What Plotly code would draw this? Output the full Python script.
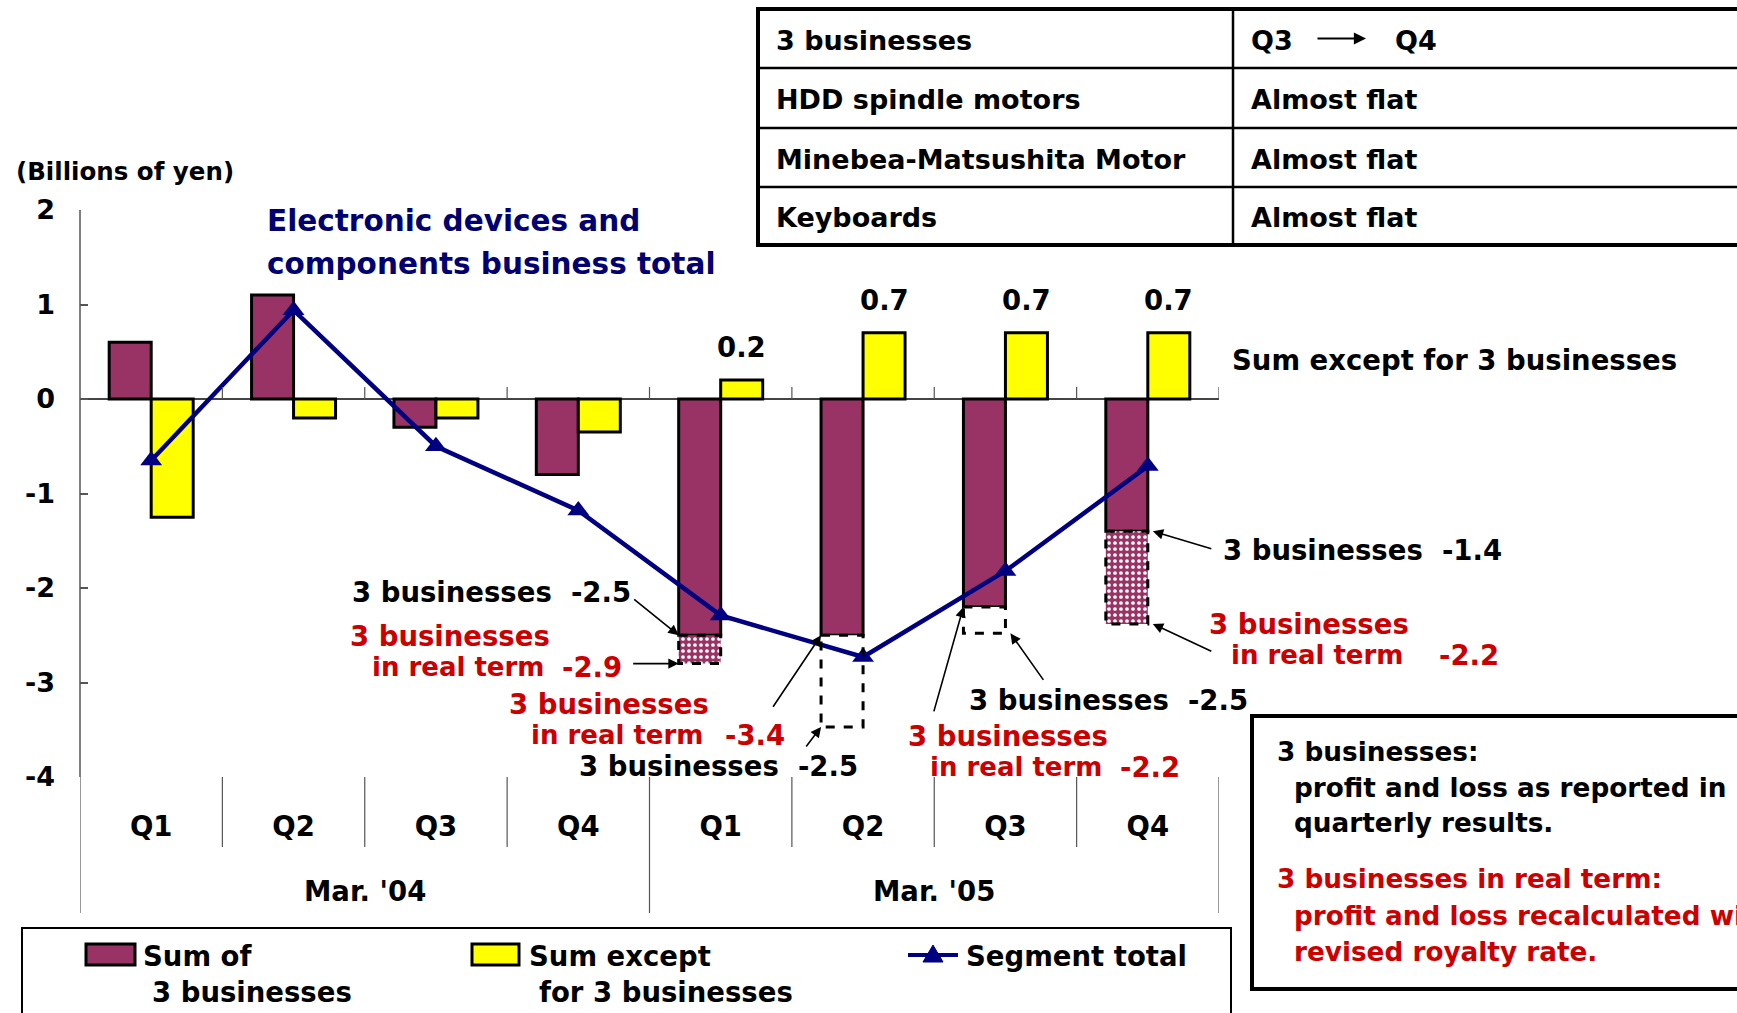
import plotly.graph_objects as go

# ── Data (billions of yen) ────────────────────────────────────────────────────
QUARTERS    = ["Q1", "Q2", "Q3", "Q4", "Q1", "Q2", "Q3", "Q4"]
YEARS       = ["Mar. '04", "Mar. '05"]
SUM_3       = [0.6, 1.1, -0.3, -0.8, -2.5, -2.5, -2.2, -1.4]
SUM_EXCEPT  = [-1.25, -0.2, -0.2, -0.35, 0.2, 0.7, 0.7, 0.7]
SEGMENT     = [-0.65, 0.94, -0.5, -1.18, -2.29, -2.73, -1.82, -0.71]

# boxes hanging under the "3 businesses" bars in FY Mar. '05
EXT_IDX     = [4, 5, 6, 7]
EXT_TOP     = [-2.5, -2.5, -2.2, -1.4]
EXT_BOTTOM  = [-2.8, -3.47, -2.48, -2.38]
EXT_DOTTED  = [True, False, False, True]

REPORTED    = ["-2.5", "-2.5", "-2.5", "-1.4"]
REAL_TERM   = ["-2.9", "-3.4", "-2.2", "-2.2"]

TABLE_HEAD  = ["3 businesses", "Q3", "Q4"]
TABLE_ROWS  = ["HDD spindle motors", "Minebea-Matsushita Motor", "Keyboards"]
TABLE_TREND = ["Almost flat", "Almost flat", "Almost flat"]

Y_TICKS     = [2, 1, 0, -1, -2, -3, -4]

# ── Style ─────────────────────────────────────────────────────────────────────
W, H       = 1737, 1013
FONT       = "DejaVu Sans"
MAROON     = "#993366"
YELLOW     = "#FFFF00"
NAVY       = "#000080"
TITLE_BLUE = "#000070"
RED        = "#CC0000"
AXIS_GREY  = "#555555"
BAR_W      = 0.295
NB         = "\u00a0"
X          = list(range(len(QUARTERS)))

# plot area in page pixels
PX_L, PX_R, PX_T, PX_B = 80, 1219, 210, 777


def px(x):
    return x / W


def py(y):
    return 1 - y / H


fig = go.Figure()

# ── Bars ──────────────────────────────────────────────────────────────────────
fig.add_trace(go.Bar(
    x=X, y=SUM_3, offset=-BAR_W, width=BAR_W,
    marker=dict(color=MAROON, line=dict(color="black", width=3)),
    name="Sum of 3 businesses", showlegend=False,
))
fig.add_trace(go.Bar(
    x=X, y=SUM_EXCEPT, offset=0, width=BAR_W,
    marker=dict(color=YELLOW, line=dict(color="black", width=3)),
    name="Sum except for 3 businesses", showlegend=False,
))

dot_x = [i for i, d in zip(EXT_IDX, EXT_DOTTED) if d]
dot_b = [t for t, d in zip(EXT_TOP, EXT_DOTTED) if d]
dot_y = [b - t for t, b, d in zip(EXT_TOP, EXT_BOTTOM, EXT_DOTTED) if d]
fig.add_trace(go.Bar(
    x=dot_x, y=dot_y, base=dot_b, offset=-BAR_W, width=BAR_W,
    marker=dict(color=MAROON, line=dict(width=0),
                pattern=dict(shape=".", fgcolor="white", bgcolor=MAROON,
                             size=6, solidity=0.3)),
    showlegend=False,
))
wht_x = [i for i, d in zip(EXT_IDX, EXT_DOTTED) if not d]
wht_b = [t for t, d in zip(EXT_TOP, EXT_DOTTED) if not d]
wht_y = [b - t for t, b, d in zip(EXT_TOP, EXT_BOTTOM, EXT_DOTTED) if not d]
fig.add_trace(go.Bar(
    x=wht_x, y=wht_y, base=wht_b, offset=-BAR_W, width=BAR_W,
    marker=dict(color="white", line=dict(width=0)),
    showlegend=False,
))

# dashed outlines of those boxes
for i, t, b in zip(EXT_IDX, EXT_TOP, EXT_BOTTOM):
    fig.add_shape(type="rect", xref="x", yref="y",
                  x0=i - BAR_W, x1=i, y0=t, y1=b,
                  line=dict(color="black", width=3, dash="dash"))

# ── Segment total line ────────────────────────────────────────────────────────
fig.add_trace(go.Scatter(
    x=X, y=SEGMENT, mode="lines+markers",
    line=dict(color=NAVY, width=4.5),
    marker=dict(symbol="triangle-up", size=19, color=NAVY),
    name="Segment total", showlegend=False,
))


# ── Helpers ───────────────────────────────────────────────────────────────────
def label(s, x, y, color="black", size=27.5, xanchor="left"):
    fig.add_annotation(text=s, x=px(x), y=py(y), xref="paper", yref="paper",
                       showarrow=False, xanchor=xanchor, yanchor="middle",
                       font=dict(family=FONT, size=size, color=color,
                                 weight="bold"))


def arrow(x, y, ax, ay, xshift=0):
    fig.add_annotation(x=x, y=y, xref="x", yref="y", ax=ax, ay=ay, text="",
                       showarrow=True, arrowhead=2, arrowsize=1.3,
                       arrowwidth=1.6, arrowcolor="black", xshift=xshift)


def line(x0, y0, x1, y1, width=1.5, color="black"):
    fig.add_shape(type="line", xref="paper", yref="paper",
                  x0=px(x0), y0=py(y0), x1=px(x1), y1=py(y1),
                  line=dict(color=color, width=width))


def rect(x0, y0, x1, y1, width=3, fill=None):
    fig.add_shape(type="rect", xref="paper", yref="paper",
                  x0=px(x0), y0=py(y0), x1=px(x1), y1=py(y1),
                  line=dict(color="black", width=width),
                  fillcolor=fill)


def biz(v):
    return "3 businesses " + NB + v


def real_term(k, x, y, value_x):
    """Red two-line callout: '3 businesses' / 'in real term  <value>'."""
    label("3 businesses", x, y, color=RED)
    label("in real term", x + 22, y + 31, color=RED, size=26)
    label(REAL_TERM[k], value_x, y + 31, color=RED)


# ── Value labels above yellow bars (FY Mar. '05) ──────────────────────────────
for i in EXT_IDX:
    fig.add_annotation(x=i + BAR_W / 2, y=SUM_EXCEPT[i], xref="x", yref="y",
                       text=f"{SUM_EXCEPT[i]:.1f}", showarrow=False,
                       yanchor="bottom", yshift=15,
                       font=dict(family=FONT, size=27.5, color="black",
                                 weight="bold"))

# ── Callouts ──────────────────────────────────────────────────────────────────
label("(Billions of yen)", 14, 172, size=24.5)
label("Electronic devices and", 265, 221, color=TITLE_BLUE, size=29.5)
label("components business total", 265, 264, color=TITLE_BLUE, size=29.5)
label("Sum except for 3 businesses", 1230, 360)

# Q1 '05
label(biz(REPORTED[0]), 350, 592)
real_term(0, 348, 636, 560)
arrow(EXT_IDX[0] - BAR_W, EXT_TOP[0], -46, -37)
arrow(EXT_IDX[0] - BAR_W, EXT_BOTTOM[0], -47, 0)

# Q2 '05
real_term(1, 507, 704, 723)
label(biz(REPORTED[1]), 577, 766)
arrow(EXT_IDX[1] - BAR_W, EXT_TOP[1], -49, 73)
arrow(EXT_IDX[1] - BAR_W, EXT_BOTTOM[1], -16, 21)

# Q3 '05
label(biz(REPORTED[2]), 967, 700)
real_term(2, 906, 736, 1118)
arrow(EXT_IDX[2], EXT_BOTTOM[2], 34, 48, xshift=5)
arrow(EXT_IDX[2] - BAR_W, EXT_TOP[2], -30, 106)

# Q4 '05
label(biz(REPORTED[3]), 1221, 550)
real_term(3, 1207, 624, 1437)
arrow(EXT_IDX[3], EXT_TOP[3], 60, 18, xshift=5)
arrow(EXT_IDX[3], EXT_BOTTOM[3], 60, 28, xshift=5)

# ── Category axis furniture ───────────────────────────────────────────────────
n = len(QUARTERS)
for b in range(n + 1):
    xb = b - 0.5
    bottom = 913 if b in (0, n // 2, n) else 847
    fig.add_shape(type="line", xref="x", yref="paper",
                  x0=xb, x1=xb, y0=py(PX_B), y1=py(bottom),
                  line=dict(color=AXIS_GREY, width=1.2))
    if b > 0:
        fig.add_shape(type="line", xref="x", yref="y", ysizemode="pixel",
                      yanchor=0, x0=xb, x1=xb, y0=0, y1=12,
                      line=dict(color=AXIS_GREY, width=1.2))

for k, yr in enumerate(YEARS):
    fig.add_annotation(x=(n // 2) * k + (n // 2 - 1) / 2, y=py(891),
                       xref="x", yref="paper", text=yr, showarrow=False,
                       yanchor="middle",
                       font=dict(family=FONT, size=27.5, color="black",
                                 weight="bold"))

# ── Table (top right) ─────────────────────────────────────────────────────────
T_L, T_R, T_T, T_B, T_COL = 758, 1760, 9, 245, 1233
row_lines = [68, 128, 187]
rect(T_L, T_T, T_R, T_B, width=4)
for yl in row_lines:
    line(T_L, yl, T_R, yl, width=2.5)
line(T_COL, T_T, T_COL, T_B, width=2.5)
edges = [T_T] + row_lines + [T_B]
centres = [(a + b) / 2 + 2 for a, b in zip(edges[:-1], edges[1:])]
label(TABLE_HEAD[0], 774, centres[0], size=27)
label(TABLE_HEAD[1], 1249, centres[0], size=27)
label(TABLE_HEAD[2], 1393, centres[0], size=27)
fig.add_annotation(x=px(1366), y=py(centres[0] - 2), xref="paper", yref="paper",
                   ax=-50, ay=0, text="", showarrow=True, arrowhead=2,
                   arrowsize=1.1, arrowwidth=2.2, arrowcolor="black")
for r, (name, trend) in enumerate(zip(TABLE_ROWS, TABLE_TREND)):
    label(name, 774, centres[r + 1], size=27)
    label(trend, 1249, centres[r + 1], size=27)

# ── Note box (bottom right) ───────────────────────────────────────────────────
NOTE = 26.3
rect(1252, 716, 1760, 989, width=4)
label("3 businesses:", 1275, 752, size=NOTE)
label("profit and loss as reported in", 1292, 788, size=NOTE)
label("quarterly results.", 1292, 823, size=NOTE)
label("3 businesses in real term:", 1275, 879, color=RED, size=NOTE)
label("profit and loss recalculated with", 1292, 916, color=RED, size=NOTE)
label("revised royalty rate.", 1292, 952, color=RED, size=NOTE)

# ── Legend (drawn by hand to match the layout) ────────────────────────────────
rect(22, 928, 1231, 1040, width=2)
rect(86, 944, 135, 965, width=3, fill=MAROON)
label("Sum of", 141, 956)
label("3 businesses", 150, 992)
rect(472, 944, 519, 965, width=3, fill=YELLOW)
label("Sum except", 527, 956)
label("for 3 businesses", 537, 992)
line(908, 955, 958, 955, width=4, color=NAVY)
fig.add_shape(type="path", xref="paper", yref="paper",
              path=(f"M {px(933)},{py(945)} L {px(943)},{py(962)} "
                    f"L {px(923)},{py(962)} Z"),
              fillcolor=NAVY, line=dict(color=NAVY, width=1))
label("Segment total", 964, 956)

# ── Axes & layout ─────────────────────────────────────────────────────────────
fig.add_shape(type="line", xref="paper", yref="paper",
              x0=px(PX_L), x1=px(PX_L), y0=py(PX_T), y1=py(PX_B),
              line=dict(color=AXIS_GREY, width=1.5))

fig.update_layout(
    template="none",
    width=W, height=H, autosize=False,
    margin=dict(l=0, r=0, t=0, b=0, pad=0, autoexpand=False),
    paper_bgcolor="white", plot_bgcolor="white",
    barmode="overlay",
    font=dict(family=FONT, size=27.5, color="black", weight="bold"),
    showlegend=False,
    xaxis=dict(
        domain=[px(PX_L), px(PX_R)], range=[-0.5, n - 0.5],
        tickvals=X, ticktext=QUARTERS, ticks="",
        showgrid=False, zeroline=False, showline=False, automargin=False,
        ticklabelstandoff=30,
        tickfont=dict(family=FONT, size=27.5, color="black", weight="bold"),
    ),
    yaxis=dict(
        domain=[py(PX_B), py(PX_T)], range=[Y_TICKS[-1], Y_TICKS[0]],
        tickvals=Y_TICKS, ticktext=[str(v) for v in Y_TICKS],
        ticks="inside", ticklen=8, tickwidth=1.5, tickcolor=AXIS_GREY,
        showgrid=False, showline=False, automargin=False,
        zeroline=True, zerolinecolor="#444444", zerolinewidth=1.5,
        ticklabelstandoff=24,
        tickfont=dict(family=FONT, size=27, color="black", weight="bold"),
    ),
)

fig.write_html("out.html",
               config={"displayModeBar": False},
               post_script="document.body.style.margin='0';"
                           "document.body.style.overflow='hidden';")
